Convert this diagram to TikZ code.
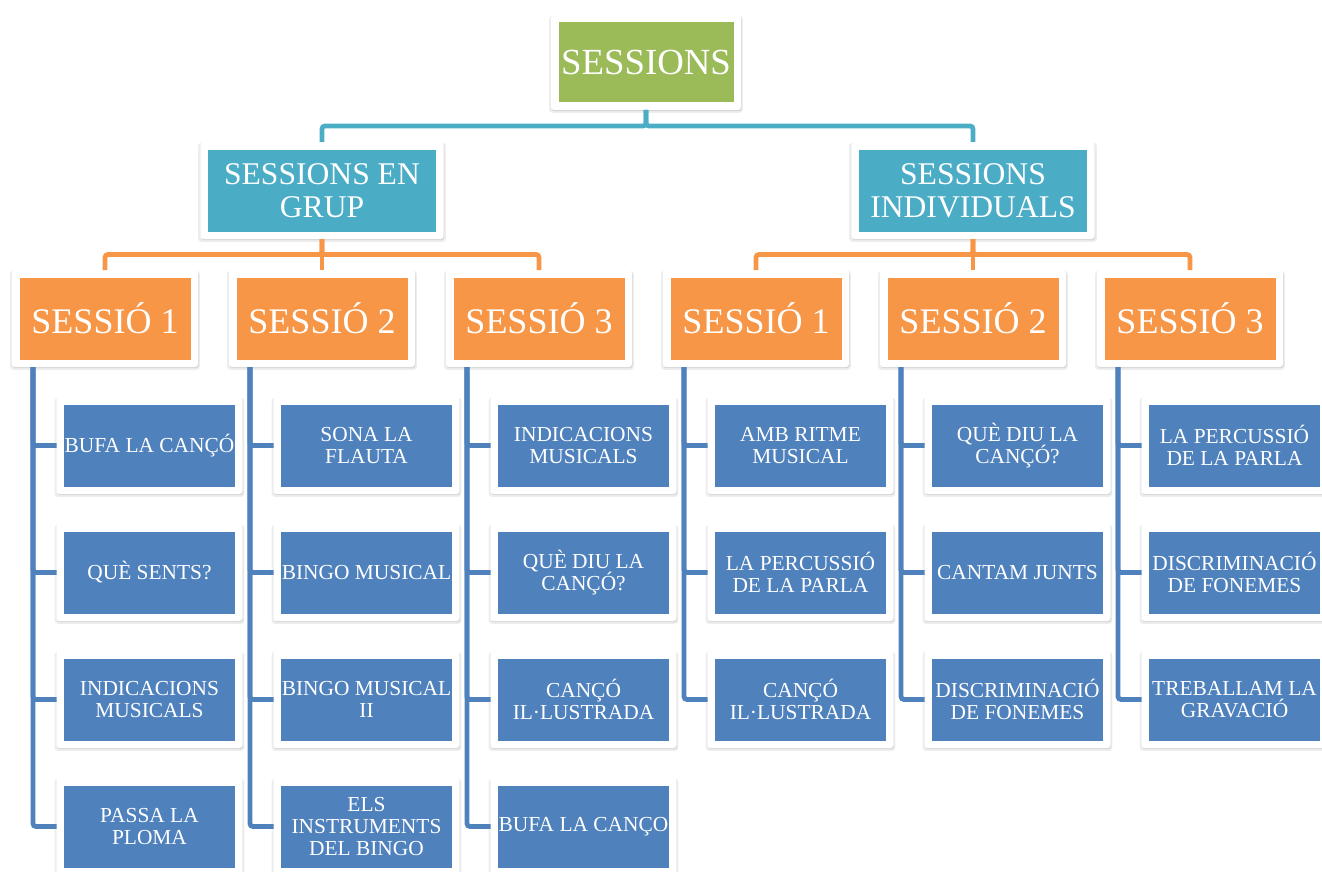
\documentclass[tikz,border=0pt]{standalone}
\usepackage{fontspec}
\setmainfont{Liberation Serif}
\usetikzlibrary{positioning,shadows}

\definecolor{rootgreen}{HTML}{9BBB59}
\definecolor{groupteal}{HTML}{4BACC6}
\definecolor{sessorange}{HTML}{F79646}
\definecolor{activblue}{HTML}{4F81BD}

\tikzset{
	framed/.style={rectangle, fill=white, rounded corners=1.5pt, inner sep=0pt, outer sep=0pt, align=center, text=white,
		drop shadow={shadow xshift=0pt, shadow yshift=-.9pt, shadow scale=1.02, opacity=.14},
		drop shadow={shadow xshift=.3pt, shadow yshift=-.6pt, opacity=.22},
		path picture={\fill[#1, sharp corners] ([shift={(3.75pt,-3.75pt)}]path picture bounding box.north west) rectangle ([shift={(-3.75pt,3.75pt)}]path picture bounding box.south east);}},
	rootbox/.style={framed=rootgreen, minimum width=95pt, minimum height=47.5pt, font=\fontsize{18.4}{19.4}\selectfont},
	groupbox/.style={framed=groupteal, minimum width=121.5pt, minimum height=48.5pt, font=\fontsize{15.8}{16.6}\selectfont},
	sessbox/.style={framed=sessorange, minimum width=93pt, minimum height=48.5pt, font=\fontsize{18}{19}\selectfont},
	actbox/.style={framed=activblue, minimum width=93pt, minimum height=48.5pt, font=\fontsize{10.7}{11.2}\selectfont},
	link/.style={line width=2.4pt, rounded corners=1.5pt, #1},
}

\begin{document}
\begin{tikzpicture}[x=0.5pt, y=-0.5pt, node distance=15pt]
	\useasboundingbox (0,0) rectangle (1322,872);
	\node [rootbox] (root) at (646,62.5) {SESSIONS};
	\node [groupbox, below=16pt of root, xshift=-162pt] (grup) {SESSIONS EN\\GRUP};
	\node [groupbox, below=16pt of root, xshift=163.5pt] (indiv) {SESSIONS\\INDIVIDUALS};
	%
	\node [sessbox, below=15.5pt of grup] (g2) {SESSIÓ 2};
	\node [sessbox, left=15.5pt of g2] (g1) {SESSIÓ 1};
	\node [sessbox, right=15.5pt of g2] (g3) {SESSIÓ 3};
	\node [sessbox, below=15.5pt of indiv] (i2) {SESSIÓ 2};
	\node [sessbox, left=15.5pt of i2] (i1) {SESSIÓ 1};
	\node [sessbox, right=15.5pt of i2] (i3) {SESSIÓ 3};
	%
	\node [actbox, below=of g1, xshift=22.25pt] (g1a) {BUFA LA CANÇÓ};
	\node [actbox, below=of g1a] (g1b) {QUÈ SENTS?};
	\node [actbox, below=of g1b] (g1c) {INDICACIONS\\MUSICALS};
	\node [actbox, below=of g1c] (g1d) {PASSA LA\\PLOMA};
	%
	\node [actbox, below=of g2, xshift=22.25pt] (g2a) {SONA LA\\FLAUTA};
	\node [actbox, below=of g2a] (g2b) {BINGO MUSICAL};
	\node [actbox, below=of g2b] (g2c) {BINGO MUSICAL\\II};
	\node [actbox, below=of g2c] (g2d) {ELS\\INSTRUMENTS\\DEL BINGO};
	%
	\node [actbox, below=of g3, xshift=22.25pt] (g3a) {INDICACIONS\\MUSICALS};
	\node [actbox, below=of g3a] (g3b) {QUÈ DIU LA\\CANÇÓ?};
	\node [actbox, below=of g3b] (g3c) {CANÇÓ\\IL·LUSTRADA};
	\node [actbox, below=of g3c] (g3d) {BUFA LA CANÇO};
	%
	\node [actbox, below=of i1, xshift=22.25pt] (i1a) {AMB RITME\\MUSICAL};
	\node [actbox, below=of i1a] (i1b) {LA PERCUSSIÓ\\DE LA PARLA};
	\node [actbox, below=of i1b] (i1c) {CANÇÓ\\IL·LUSTRADA};
	%
	\node [actbox, below=of i2, xshift=22.25pt] (i2a) {QUÈ DIU LA\\CANÇÓ?};
	\node [actbox, below=of i2a] (i2b) {CANTAM JUNTS};
	\node [actbox, below=of i2b] (i2c) {DISCRIMINACIÓ\\DE FONEMES};
	%
	\node [actbox, below=of i3, xshift=22.25pt] (i3a) {LA PERCUSSIÓ\\DE LA PARLA};
	\node [actbox, below=of i3a] (i3b) {DISCRIMINACIÓ\\DE FONEMES};
	\node [actbox, below=of i3b] (i3c) {TREBALLAM LA\\GRAVACIÓ};
	%
	\draw [link=groupteal] (root.south) -- ++(0,16) -| (grup.north);
	\draw [link=groupteal] (root.south) -- ++(0,16) -| (indiv.north);
	\foreach \s in {g1,g2,g3}
		\draw [link=sessorange] (grup.south) -- ++(0,15.5) -| (\s.north);
	\foreach \s in {i1,i2,i3}
		\draw [link=sessorange] (indiv.south) -- ++(0,15.5) -| (\s.north);
	\foreach \s in {g1,g2,g3}
		\foreach \k in {a,b,c,d}
			\draw [link=activblue] (\s.south west) ++(21,0) |- (\s\k.west);
	\foreach \s in {i1,i2,i3}
		\foreach \k in {a,b,c}
			\draw [link=activblue] (\s.south west) ++(21,0) |- (\s\k.west);
\end{tikzpicture}
\end{document}
